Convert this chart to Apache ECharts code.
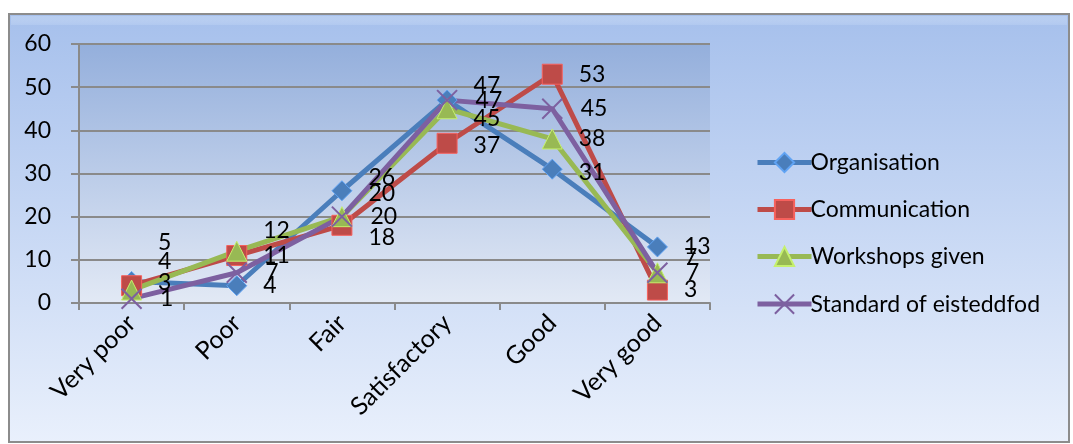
<!DOCTYPE html>
<html>
<head>
<meta charset="utf-8">
<script src="https://cdn.jsdelivr.net/npm/echarts@6/dist/echarts.min.js"></script>
<style>
  html, body { margin: 0; padding: 0; background: #fff; }
  #chart { width: 1073px; height: 444px; }
</style>
</head>
<body>
<div id="chart"></div>
<script>
const categories = ['Very poor', 'Poor', 'Fair', 'Satisfactory', 'Good', 'Very good']
const yTicks = [0, 10, 20, 30, 40, 50, 60]

const organisation = [5, 4, 26, 47, 31, 13]
const communication = [4, 11, 18, 37, 53, 3]
const workshops = [3, 12, 20, 45, 38, 7]
const standard = [1, 7, 20, 47, 45, 7]

// vertical nudges of the data labels, like excel's overlap shuffle
const orgShift = [-39, 0, -13, -15, 3, 0]
const comShift = [-24, 0, 12, 2, 0, 0]
const wsShift = [-7, -21, -23, 10, 0, -15]
const stdShift = [0, 0, 0, 0, 0, 0]

const FONT = 'Lato'
const chart = echarts.init(document.getElementById('chart'), null, { renderer: 'canvas' })

function withShift(values, shifts) {
  return values.map((v, i) => ({ value: v, label: { offset: [0, shifts[i]] } }))
}

function lineSeries(name, values, shifts, color, symbol, extra) {
  return Object.assign({
    name,
    type: 'line',
    data: withShift(values, shifts),
    symbol,
    symbolSize: 20,
    lineStyle: { color, width: 5 },
    itemStyle: { color, borderColor: echarts.color.lift(color, -0.3), borderWidth: 1 },
    label: {
      show: true,
      position: 'right',
      distance: 16,
      color: '#000',
      fontSize: 23,
      fontFamily: FONT
    },
    emphasis: { disabled: true },
    animation: false
  }, extra || {})
}

const xPath = 'path://M0,0 L10,10 M10,0 L0,10'

chart.setOption({
  backgroundColor: '#fff',
  textStyle: { fontFamily: FONT },
  graphic: [
    {
      type: 'rect',
      z: -10,
      shape: { x: 9, y: 14, width: 1060, height: 428 },
      style: {
        fill: new echarts.graphic.LinearGradient(0, 0, 0, 1, [
          { offset: 0, color: '#a6c0ec' },
          { offset: 1, color: '#e9f0fc' }
        ]),
        stroke: '#8c8c8c',
        lineWidth: 2
      },
      silent: true
    },
    {
      type: 'rect',
      z: -9,
      shape: { x: 11, y: 16, width: 1056, height: 9 },
      style: {
        fill: new echarts.graphic.LinearGradient(0, 0, 0, 1, [
          { offset: 0, color: '#b7cdf0' },
          { offset: 1, color: 'rgba(200,218,246,0.3)' }
        ])
      },
      silent: true
    }
  ],
  grid: {
    left: 79, right: 363, top: 44, bottom: 141,
    show: true,
    borderWidth: 0,
    backgroundColor: new echarts.graphic.LinearGradient(0, 0, 0, 1, [
      { offset: 0, color: '#94afdc' },
      { offset: 1, color: '#e2e9f5' }
    ])
  },
  legend: {
    orient: 'vertical',
    left: 750,
    top: 146,
    itemWidth: 54,
    itemHeight: 24,
    itemGap: 24,
    lineStyle: { width: 5 },
    textStyle: { color: '#000', fontSize: 23, fontFamily: FONT, padding: [0, 0, 0, -6] },
    data: ['Organisation', 'Communication', 'Workshops given', 'Standard of eisteddfod']
  },
  xAxis: {
    type: 'category',
    data: categories,
    boundaryGap: true,
    axisLine: { lineStyle: { color: '#8a8a8a', width: 2 } },
    axisTick: { show: true, length: 7, lineStyle: { color: '#8a8a8a', width: 2 } },
    axisLabel: {
      rotate: 45,
      color: '#000',
      fontSize: 25,
      fontFamily: FONT,
      interval: 0,
      margin: 16
    },
    splitLine: { show: false }
  },
  yAxis: {
    type: 'value',
    min: yTicks[0],
    max: yTicks[yTicks.length - 1],
    interval: 10,
    axisLine: { show: true, lineStyle: { color: '#8a8a8a', width: 2 } },
    axisTick: { show: true, length: 8, lineStyle: { color: '#8a8a8a', width: 2 } },
    axisLabel: { color: '#000', fontSize: 23, fontFamily: FONT, margin: 28 },
    splitLine: { lineStyle: { color: '#8a8a8a', width: 2 } }
  },
  series: [
    lineSeries('Organisation', organisation, orgShift, '#4a7ebb', 'diamond'),
    lineSeries('Communication', communication, comShift, '#be4b48', 'rect'),
    lineSeries('Workshops given', workshops, wsShift, '#98b954', 'triangle'),
    lineSeries('Standard of eisteddfod', standard, stdShift, '#7d60a0', xPath, {
      itemStyle: { color: 'none', borderColor: '#7d60a0', borderWidth: 2 }
    })
  ]
})
</script>
</body>
</html>
